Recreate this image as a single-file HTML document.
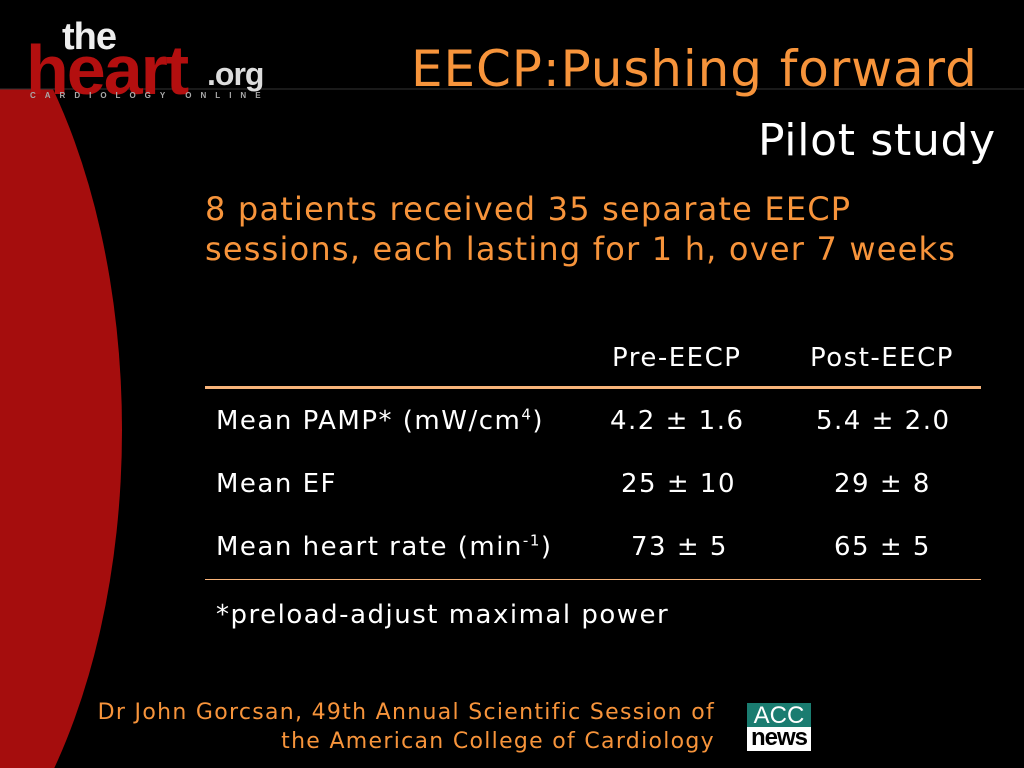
<!DOCTYPE html>
<html><head><meta charset="utf-8"><style>
html,body{margin:0;width:1024px;height:768px;background:#000;overflow:hidden;}
body{position:relative;font-family:"DejaVu Sans","Liberation Sans",sans-serif;}
.t{position:absolute;white-space:nowrap;}
.tb .t{letter-spacing:1.5px}
</style></head><body>
<svg width="1024" height="768" style="position:absolute;left:0;top:0">
<defs><clipPath id="c"><rect x="0" y="89" width="1024" height="679"/></clipPath></defs>
<ellipse cx="-160" cy="430" rx="282" ry="520" fill="#a50d0d" clip-path="url(#c)"/>
<line x1="0" y1="89" x2="1024" y2="89" stroke="#333" stroke-width="1"/>
<rect x="205" y="386" width="776" height="3" fill="#f8b47a"/>
<rect x="205" y="579" width="776" height="1" fill="#f8b47a"/>
<rect x="747" y="703" width="64" height="24" fill="#1a7c70"/>
<rect x="747" y="727" width="64" height="24" fill="#fff"/>
</svg>
<div class="t" style="left:62px;top:16px;font:bold 38px 'Liberation Sans',sans-serif;color:#eee;letter-spacing:-1px">the</div>
<div class="t" style="left:26px;top:30px;font:bold 70px 'Liberation Sans',sans-serif;color:#b30f0f;letter-spacing:-2px">heart</div>
<div class="t" style="left:207px;top:56px;font:bold 32px 'Liberation Sans',sans-serif;color:#ddd;letter-spacing:-1px">.org</div>
<div class="t" style="left:30px;top:91px;font:bold 8px 'Liberation Sans',sans-serif;color:#aaa;letter-spacing:9px">CARDIOLOGY ONLINE</div>
<div class="t" style="left:411px;top:40px;font-size:50px;color:#f7943b;letter-spacing:0.9px">EECP:Pushing forward</div>
<div class="t" style="left:758px;top:115px;font-size:44px;color:#fff;letter-spacing:0.7px">Pilot study</div>
<div class="t" style="left:205px;top:189px;font-size:32px;color:#f7943b;line-height:40px;letter-spacing:1.2px">8 patients received 35 separate EECP<br>sessions, each lasting for 1 h, over 7 weeks</div>
<div class="tb" style="position:absolute;left:0;top:2px;color:#fff;font-size:26px">
<div class="t" style="left:612px;top:341px">Pre-EECP</div>
<div class="t" style="left:810px;top:341px">Post-EECP</div>
<div class="t" style="left:216px;top:404px">Mean PAMP* (mW/cm<sup style="font-size:15px;line-height:0">4</sup>)</div>
<div class="t" style="left:610px;top:404px">4.2 ± 1.6</div>
<div class="t" style="left:816px;top:404px">5.4 ± 2.0</div>
<div class="t" style="left:216px;top:467px">Mean EF</div>
<div class="t" style="left:621px;top:467px">25 ± 10</div>
<div class="t" style="left:834px;top:467px">29 ± 8</div>
<div class="t" style="left:216px;top:530px">Mean heart rate (min<sup style="font-size:15px;line-height:0">-1</sup>)</div>
<div class="t" style="left:631px;top:530px">73 ± 5</div>
<div class="t" style="left:834px;top:530px">65 ± 5</div>
<div class="t" style="left:216px;top:598px">*preload-adjust maximal power</div>
</div>
<div class="t" style="right:309px;top:698px;font-size:22px;color:#f7943b;text-align:right;line-height:29px;letter-spacing:1.3px">Dr John Gorcsan, 49th Annual Scientific Session of<br>the American College of Cardiology</div>
<div class="t" style="left:749px;top:702px;width:60px;text-align:center;font:24px 'Liberation Sans',sans-serif;color:#fff">ACC</div>
<div class="t" style="left:749px;top:724px;width:60px;text-align:center;font:bold 24px 'Liberation Sans',sans-serif;color:#000;letter-spacing:-1px">news</div>
</body></html>
